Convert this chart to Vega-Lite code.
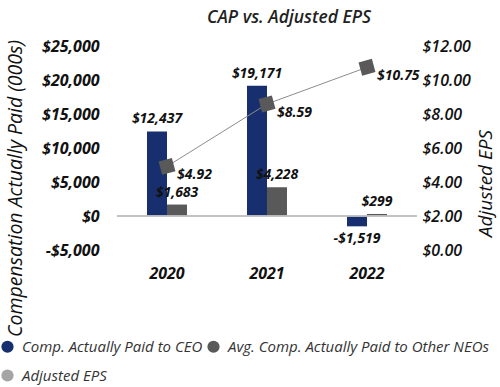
{
  "$schema": "https://vega.github.io/schema/vega-lite/v6.json",
  "width": 300,
  "height": 204,
  "autosize": {"type": "none"},
  "padding": {"left": 117, "top": 46, "right": 83, "bottom": 137},
  "config": {
    "font": "Open Sans",
    "view": {"stroke": null},
    "axis": {"labelOverlap": false, "labelBound": false, "labelFlush": false}
  },
  "title": {
    "text": "CAP vs. Adjusted EPS",
    "fontSize": 17.5,
    "fontStyle": "italic",
    "fontWeight": 600,
    "color": "#222222",
    "anchor": "middle",
    "dx": 22,
    "offset": 12
  },
  "datasets": {
    "comp": [
      {"year": "2020", "series": "Comp. Actually Paid to CEO", "value": 12437},
      {"year": "2020", "series": "Avg. Comp. Actually Paid to Other NEOs", "value": 1683},
      {"year": "2021", "series": "Comp. Actually Paid to CEO", "value": 19171},
      {"year": "2021", "series": "Avg. Comp. Actually Paid to Other NEOs", "value": 4228},
      {"year": "2022", "series": "Comp. Actually Paid to CEO", "value": -1519},
      {"year": "2022", "series": "Avg. Comp. Actually Paid to Other NEOs", "value": 299}
    ],
    "eps": [
      {"year": "2020", "eps": 4.92},
      {"year": "2021", "eps": 8.59},
      {"year": "2022", "eps": 10.75}
    ]
  },
  "resolve": {"scale": {"y": "independent"}},
  "layer": [
    {
      "data": {"name": "comp"},
      "transform": [
        {"calculate": "(datum.value < 0 ? '-$' : '$') + format(abs(datum.value), ',')", "as": "label"}
      ],
      "encoding": {
        "x": {
          "field": "year",
          "type": "nominal",
          "scale": {"paddingInner": 0.6, "paddingOuter": 0.3},
          "axis": {
            "title": null,
            "domain": false,
            "ticks": false,
            "labelAngle": 0,
            "labelFontSize": 16,
            "labelFontWeight": "bold",
            "labelFontStyle": "italic",
            "labelColor": "#111111",
            "labelPadding": 15
          }
        },
        "xOffset": {
          "field": "series",
          "type": "nominal",
          "sort": ["Comp. Actually Paid to CEO", "Avg. Comp. Actually Paid to Other NEOs"]
        },
        "y": {
          "field": "value",
          "type": "quantitative",
          "scale": {"domain": [-5000, 25000], "nice": false, "zero": false},
          "axis": {
            "title": "Compensation Actually Paid (000s)",
            "titleFontSize": 19.5,
            "titleFontWeight": "normal",
            "titleFontStyle": "italic",
            "titleColor": "#111111",
            "titleX": -102,
            "titleY": 142,
            "titleAngle": 270,
            "titleBaseline": "middle",
            "values": [-5000, 0, 5000, 10000, 15000, 20000, 25000],
            "labelOverlap": false,
            "labelExpr": "(datum.value < 0 ? '-$' : '$') + format(abs(datum.value), ',')",
            "labelFontSize": 16,
            "labelFontWeight": "bold",
            "labelFontStyle": "italic",
            "labelColor": "#111111",
            "labelPadding": 18,
            "domain": false,
            "ticks": false,
            "grid": false
          }
        }
      },
      "layer": [
        {
          "mark": {"type": "bar"},
          "encoding": {
            "color": {
              "field": "series",
              "type": "nominal",
              "scale": {
                "domain": ["Comp. Actually Paid to CEO", "Avg. Comp. Actually Paid to Other NEOs", "Adjusted EPS"],
                "range": ["#172f6e", "#595959", "#a5a5a5"]
              },
              "legend": {
                "title": null,
                "orient": "none",
                "legendX": -117,
                "legendY": 293,
                "direction": "horizontal",
                "columns": 2,
                "columnPadding": 3,
                "rowPadding": 13,
                "symbolType": "circle",
                "symbolSize": 150,
                "symbolStrokeWidth": 0,
                "labelFontSize": 15,
                "labelFontStyle": "italic",
                "labelColor": "#333333",
                "labelOffset": 7,
                "labelLimit": 400
              }
            }
          }
        },
        {
          "transform": [{"filter": "datum.year == '2020'"}],
          "mark": {"type": "rule", "color": "#bfbfbf", "strokeWidth": 1.5},
          "encoding": {"y": {"datum": 0, "type": "quantitative"}, "x": null, "xOffset": null}
        },
        {
          "transform": [{"filter": "datum.value >= 0"}],
          "mark": {"type": "text", "baseline": "bottom", "dy": -5, "fontSize": 14, "fontWeight": "bold", "fontStyle": "italic", "color": "#111111"},
          "encoding": {"text": {"field": "label"}}
        },
        {
          "transform": [{"filter": "datum.value < 0"}],
          "mark": {"type": "text", "baseline": "top", "dy": 6, "fontSize": 14, "fontWeight": "bold", "fontStyle": "italic", "color": "#111111"},
          "encoding": {"text": {"field": "label"}}
        }
      ]
    },
    {
      "data": {"name": "eps"},
      "encoding": {
        "x": {"field": "year", "type": "nominal"},
        "y": {
          "field": "eps",
          "type": "quantitative",
          "scale": {"domain": [0, 12], "nice": false},
          "axis": {
            "orient": "right",
            "title": "Adjusted EPS",
            "titleAngle": 270,
            "titleBaseline": "middle",
            "titleX": 68,
            "titleY": 137,
            "titleFontSize": 19,
            "titleFontWeight": "normal",
            "titleFontStyle": "italic",
            "titleColor": "#111111",
            "values": [0, 2, 4, 6, 8, 10, 12],
            "labelOverlap": false,
            "format": "$.2f",
            "labelFontSize": 16,
            "labelFontWeight": 600,
            "labelFontStyle": "italic",
            "labelColor": "#111111",
            "labelPadding": 5,
            "domain": false,
            "ticks": false,
            "grid": false
          }
        }
      },
      "layer": [
        {"mark": {"type": "line", "color": "#8c8c8c", "strokeWidth": 1}},
        {"mark": {"type": "point", "shape": "square", "filled": true, "size": 190, "angle": -15, "color": "#595959", "opacity": 1}},
        {
          "mark": {"type": "text", "align": "left", "baseline": "middle", "dx": 10, "dy": 9, "fontSize": 14, "fontWeight": "bold", "fontStyle": "italic", "color": "#111111"},
          "encoding": {"text": {"field": "eps", "format": "$.2f"}}
        }
      ]
    }
  ]
}
